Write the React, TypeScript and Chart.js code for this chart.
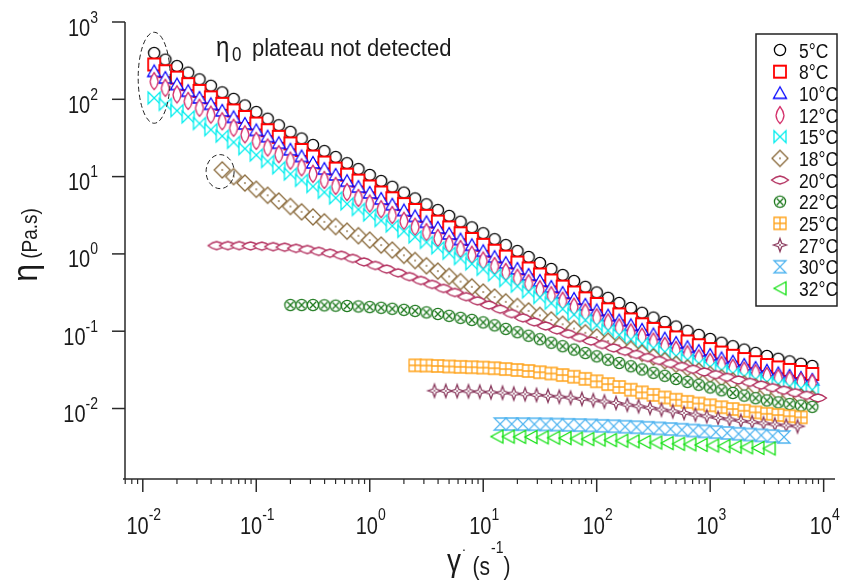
import React, { useEffect, useRef } from "react";
import { Chart, registerables } from "chart.js";

Chart.register(...registerables);

// ---------- data ----------
const seriesLabels = ["5°C", "8°C", "10°C", "12°C", "15°C", "18°C", "20°C", "22°C", "25°C", "27°C", "30°C", "32°C"];
const seriesColors = ["#000000", "#ff0000", "#0000ff", "#d42f6a", "#00eeee", "#8b6b3d", "#b3305f", "#1f7a1f", "#ffa31a", "#8a3a5e", "#4fb4f0", "#10e010"];
const seriesMarkers = ["circle", "square", "triangle", "lensV", "bowtie", "diamondDot", "lensH", "circleX", "squarePlus", "star4", "hourglass", "triLeft"];

const shearRate = [0.0126, 0.0158, 0.02, 0.0251, 0.0316, 0.0398, 0.0501, 0.0631, 0.0794, 0.1,
  0.126, 0.158, 0.2, 0.251, 0.316, 0.398, 0.501, 0.631, 0.794, 1.0,
  1.26, 1.58, 2.0, 2.51, 3.16, 3.98, 5.01, 6.31, 7.94, 10.0,
  12.6, 15.8, 20.0, 25.1, 31.6, 39.8, 50.1, 63.1, 79.4, 100,
  126, 158, 200, 251, 316, 398, 501, 631, 794, 1000,
  1259, 1585, 1995, 2512, 3162, 3981, 5012, 6310, 7943];

const eta5 = [397, 326, 269, 221, 181, 149.5, 122.9, 101.2, 83.2, 68.5,
  56.1, 46.1, 37.9, 31.1, 25.6, 21.4, 17.9, 14.9, 12.5, 10.5,
  8.77, 7.38, 6.21, 5.21, 4.38, 3.69, 3.1, 2.61, 2.2, 1.85,
  1.55, 1.3, 1.09, 0.912, 0.763, 0.638, 0.533, 0.446, 0.375, 0.317,
  0.27, 0.232, 0.2, 0.173, 0.15, 0.132, 0.115, 0.101, 0.0896, 0.0793,
  0.071, 0.064, 0.0578, 0.0524, 0.0478, 0.044, 0.0407, 0.0379, 0.0355];
const eta8 = [282, 231, 191, 157, 128.5, 106, 87.3, 71.9, 59.1, 48.6,
  39.8, 32.7, 26.9, 22.1, 18.2, 15.2, 12.7, 10.6, 8.88, 7.46,
  6.23, 5.24, 4.41, 3.7, 3.11, 2.62, 2.2, 1.85, 1.56, 1.31,
  1.1, 0.923, 0.774, 0.648, 0.542, 0.453, 0.378, 0.317, 0.266, 0.225,
  0.192, 0.165, 0.142, 0.123, 0.107, 0.0945, 0.0831, 0.0736, 0.0659, 0.0588,
  0.053, 0.0481, 0.0437, 0.0398, 0.0366, 0.034, 0.0316, 0.0297, 0.028];
const eta10 = [229, 188, 155, 127, 104, 86.1, 70.8, 58.3, 47.9, 39.5,
  32.8, 27.0, 22.2, 18.2, 15.0, 12.5, 10.5, 8.72, 7.31, 6.14,
  5.13, 4.32, 3.63, 3.05, 2.56, 2.16, 1.81, 1.53, 1.29, 1.08,
  0.907, 0.761, 0.638, 0.534, 0.446, 0.373, 0.312, 0.261, 0.219, 0.185,
  0.159, 0.137, 0.119, 0.104, 0.0905, 0.08, 0.0702, 0.062, 0.0553, 0.0492,
  0.0444, 0.0402, 0.0366, 0.0334, 0.0307, 0.0284, 0.0264, 0.0248, 0.0234];
const eta12 = [172, 141, 116, 95.3, 77.8, 63.4, 52.1, 42.9, 35.3, 29.0,
  23.8, 19.5, 16.1, 13.2, 10.9, 9.07, 7.59, 6.32, 5.3, 4.49,
  3.79, 3.19, 2.68, 2.25, 1.91, 1.61, 1.35, 1.16, 0.977, 0.821,
  0.698, 0.585, 0.491, 0.418, 0.349, 0.292, 0.248, 0.208, 0.175, 0.151,
  0.13, 0.112, 0.0964, 0.0848, 0.0735, 0.0647, 0.0573, 0.0503, 0.0446, 0.04,
  0.0365, 0.0336, 0.0309, 0.0286, 0.0263, 0.0248, 0.0234, 0.0224, 0.0214];
const eta15 = [104, 86.1, 71.3, 59.2, 48.7, 40.5, 33.4, 27.8, 23.0, 19.0,
  15.7, 13.0, 10.8, 8.96, 7.45, 6.27, 5.3, 4.44, 3.76, 3.19,
  2.7, 2.3, 1.96, 1.66, 1.41, 1.2, 1.02, 0.872, 0.744, 0.633,
  0.535, 0.452, 0.383, 0.323, 0.273, 0.23, 0.194, 0.164, 0.139, 0.119,
  0.102, 0.0893, 0.0782, 0.0687, 0.0605, 0.054, 0.0477, 0.0425, 0.0383, 0.0344,
  0.0312, 0.0285, 0.026, 0.0239, 0.022, 0.0206, 0.0193, 0.0183, 0.0174];

const rate18 = shearRate.slice(6);
const eta18 = [12.2, 10.0, 8.26, 6.85, 5.73, 4.83, 4.11, 3.5, 3.01, 2.6, 2.26, 1.97, 1.72,
  1.51, 1.3, 1.12, 0.959, 0.821, 0.702, 0.599, 0.512, 0.438, 0.375,
  0.321, 0.277, 0.24, 0.209, 0.183, 0.16, 0.14, 0.123, 0.108, 0.0954,
  0.0841, 0.0743, 0.0657, 0.0583, 0.0519, 0.0464, 0.0415, 0.0373, 0.0336, 0.0304,
  0.0275, 0.025, 0.0228, 0.0209, 0.0191, 0.0176, 0.0162, 0.0151, 0.0141, 0.0133];

const rate20 = [0.0447, 0.0562, 0.0708, 0.0891, 0.112, 0.141, 0.178, 0.224, 0.282, 0.355,
  0.447, 0.562, 0.708, 0.891, 1.12, 1.41, 1.78, 2.24, 2.82, 3.55,
  4.47, 5.62, 7.08, 8.91, 11.2, 14.1, 17.8, 22.4, 28.2, 35.5,
  44.7, 56.2, 70.8, 89.1, 112, 141, 178, 224, 282, 355,
  447, 562, 708, 891, 1122, 1413, 1778, 2239, 2818, 3548,
  4467, 5623, 7079, 8913];
const eta20 = [1.28, 1.28, 1.28, 1.27, 1.26, 1.24, 1.22, 1.18, 1.14, 1.08,
  1.02, 0.959, 0.875, 0.788, 0.708, 0.636, 0.569, 0.509, 0.453, 0.403,
  0.358, 0.317, 0.28, 0.247, 0.218, 0.193, 0.169, 0.149, 0.132, 0.117,
  0.104, 0.0926, 0.0829, 0.0747, 0.0673, 0.0608, 0.0551, 0.0501, 0.0457, 0.0418,
  0.0382, 0.035, 0.0322, 0.0297, 0.0274, 0.0253, 0.0234, 0.0218, 0.0201, 0.0186,
  0.0172, 0.016, 0.0148, 0.0137];

const rate22 = shearRate.slice(12);
const eta22 = [0.218, 0.218, 0.218, 0.216, 0.214, 0.212, 0.209,
  0.205, 0.201, 0.195, 0.189, 0.183, 0.175, 0.167, 0.158, 0.149, 0.14,
  0.13, 0.119, 0.107, 0.0971, 0.0874, 0.0788, 0.071, 0.064, 0.0578, 0.0522,
  0.0473, 0.0428, 0.0388, 0.0352, 0.032, 0.029, 0.0265, 0.0241, 0.0221, 0.0203,
  0.0187, 0.0172, 0.0159, 0.0147, 0.0136, 0.0127, 0.012, 0.0114, 0.0109, 0.0105];

const rate25 = shearRate.slice(23, 58);
const eta25 = [0.0362, 0.036, 0.0355, 0.035, 0.0346, 0.0342, 0.0338, 0.0332, 0.0324, 0.0315,
  0.0306, 0.0295, 0.0284, 0.0271, 0.0258, 0.0242, 0.0225, 0.0207, 0.019, 0.0175,
  0.0162, 0.015, 0.0139, 0.013, 0.0122, 0.0116, 0.011, 0.0104, 0.00985, 0.00934,
  0.0089, 0.00854, 0.00824, 0.00795, 0.00769];

const rate27 = [3.72, 4.68, 5.89, 7.41, 9.33, 11.7, 14.8, 18.6, 23.4, 29.5,
  37.2, 46.8, 58.9, 74.1, 93.3, 117, 148, 186, 234, 295,
  372, 468, 589, 741, 933, 1175, 1479, 1862, 2344, 2951,
  3715, 4677, 5888];
const eta27 = [0.017, 0.0169, 0.0168, 0.0167, 0.0165, 0.0162, 0.016, 0.0156, 0.0153, 0.015,
  0.0146, 0.0142, 0.0138, 0.0133, 0.0128, 0.0123, 0.0118, 0.0112, 0.0107, 0.0102,
  0.00968, 0.0092, 0.00875, 0.00832, 0.00793, 0.00756, 0.00723, 0.00693, 0.00667, 0.00644,
  0.00623, 0.00605, 0.00588];

const rate30 = [14.1, 17.8, 22.4, 28.2, 35.5, 44.7, 56.2, 70.8, 89.1, 112,
  141, 178, 224, 282, 355, 447, 562, 708, 891, 1122,
  1413, 1778, 2239, 2818, 3548, 4467];
const eta30 = [0.0063, 0.0063, 0.00628, 0.00626, 0.00623, 0.00619, 0.00615, 0.0061, 0.00605, 0.00597,
  0.0059, 0.00581, 0.00573, 0.00563, 0.00553, 0.00543, 0.00532, 0.00519, 0.00507, 0.00495,
  0.00483, 0.00471, 0.00461, 0.0045, 0.0044, 0.00428];

const rate32 = [13.2, 16.6, 20.9, 26.3, 33.1, 41.7, 52.5, 66.1, 83.2, 105,
  132, 166, 209, 263, 331, 417, 525, 661, 832, 1047,
  1318, 1660, 2089, 2630, 3311];
const eta32 = [0.00434, 0.00433, 0.0043, 0.00428, 0.00424, 0.00419, 0.00414, 0.00408, 0.00402, 0.00396,
  0.0039, 0.00383, 0.00376, 0.0037, 0.00363, 0.00357, 0.0035, 0.00344, 0.00338, 0.00332,
  0.00326, 0.0032, 0.00315, 0.00309, 0.00304];

const seriesRates = [shearRate, shearRate, shearRate, shearRate, shearRate, rate18, rate20, rate22, rate25, rate27, rate30, rate32];
const seriesEta = [eta5, eta8, eta10, eta12, eta15, eta18, eta20, eta22, eta25, eta27, eta30, eta32];

const xTickValues = [0.01, 0.1, 1, 10, 100, 1000, 10000];
const xTickExponents = ["-2", "-1", "0", "1", "2", "3", "4"];
const yTickValues = [0.01, 0.1, 1, 10, 100, 1000];
const yTickExponents = ["-2", "-1", "0", "1", "2", "3"];

const X_MIN = 0.00697;
const X_MAX = 12589;
const Y_MIN = 0.001225;
const Y_MAX = 1000;

// dashed ellipses: [rate, eta, rx(px), ry(px)]
const ellipseNotes = [
  [0.0126, 190, 16, 45.5],
  [0.048, 11.6, 14, 17],
];

// ---------- drawing helpers ----------
const FONT = '"Liberation Sans", Arial, Helvetica, sans-serif';

function makeMarker(kind: string, color: string): HTMLCanvasElement {
  const S = 22;
  const c = document.createElement("canvas");
  c.width = S;
  c.height = S;
  const g = c.getContext("2d")!;
  g.translate(S / 2, S / 2);
  g.strokeStyle = color;
  g.fillStyle = "#ffffff";
  g.lineWidth = 1.3;
  g.lineJoin = "miter";
  g.beginPath();
  switch (kind) {
    case "circle":
      g.arc(0, 0, 5.6, 0, Math.PI * 2);
      break;
    case "square":
      g.lineWidth = 1.8;
      g.rect(-6, -6, 12, 12);
      break;
    case "triangle":
      g.moveTo(0, -6.5);
      g.lineTo(6.5, 5);
      g.lineTo(-6.5, 5);
      g.closePath();
      break;
    case "lensV":
      g.moveTo(0, -8.5);
      g.quadraticCurveTo(3.6, -4, 4, 0.5);
      g.quadraticCurveTo(3.6, 5, 0, 8.5);
      g.quadraticCurveTo(-3.6, 5, -4, 0.5);
      g.quadraticCurveTo(-3.6, -4, 0, -8.5);
      g.closePath();
      break;
    case "bowtie":
      g.moveTo(-6, -6);
      g.lineTo(6, 6);
      g.lineTo(6, -6);
      g.lineTo(-6, 6);
      g.closePath();
      break;
    case "hourglass":
      g.moveTo(-6, -6);
      g.lineTo(6, -6);
      g.lineTo(-6, 6);
      g.lineTo(6, 6);
      g.closePath();
      break;
    case "diamondDot":
      g.moveTo(0, -8);
      g.lineTo(8, 0);
      g.lineTo(0, 8);
      g.lineTo(-8, 0);
      g.closePath();
      break;
    case "lensH":
      g.moveTo(-8.5, 0);
      g.quadraticCurveTo(-4, -3.6, 0, -4);
      g.quadraticCurveTo(4, -3.6, 8.5, 0);
      g.quadraticCurveTo(4, 3.6, 0, 4);
      g.quadraticCurveTo(-4, 3.6, -8.5, 0);
      g.closePath();
      break;
    case "circleX":
      g.arc(0, 0, 5.6, 0, Math.PI * 2);
      break;
    case "squarePlus":
      g.rect(-6, -6, 12, 12);
      break;
    case "star4":
      g.moveTo(0, -6.5);
      g.lineTo(1.7, -1.7);
      g.lineTo(6.5, 0);
      g.lineTo(1.7, 1.7);
      g.lineTo(0, 6.5);
      g.lineTo(-1.7, 1.7);
      g.lineTo(-6.5, 0);
      g.lineTo(-1.7, -1.7);
      g.closePath();
      break;
    case "triLeft":
      g.moveTo(-6, 0);
      g.lineTo(6, -6.5);
      g.lineTo(6, 6.5);
      g.closePath();
      break;
  }
  g.fill();
  g.stroke();
  g.fillStyle = color;
  if (kind === "diamondDot" || kind === "star4") {
    g.fillRect(-0.8, -0.8, 1.6, 1.6);
  }
  if (kind === "circleX") {
    g.beginPath();
    g.moveTo(-3.2, -3.2);
    g.lineTo(3.2, 3.2);
    g.moveTo(3.2, -3.2);
    g.lineTo(-3.2, 3.2);
    g.stroke();
  }
  if (kind === "squarePlus") {
    g.beginPath();
    g.moveTo(0, -6);
    g.lineTo(0, 6);
    g.moveTo(-6, 0);
    g.lineTo(6, 0);
    g.stroke();
  }
  return c;
}

function drawText(ctx: CanvasRenderingContext2D, s: string, x: number, y: number, size: number,
  align: CanvasTextAlign = "left", stretch = 1.18, color = "#1a1a1a") {
  ctx.save();
  ctx.font = `${size}px ${FONT}`;
  ctx.fillStyle = color;
  ctx.textAlign = align;
  ctx.textBaseline = "alphabetic";
  ctx.translate(x, y);
  ctx.scale(1, stretch);
  ctx.fillText(s, 0, 0);
  ctx.restore();
}

function textWidth(ctx: CanvasRenderingContext2D, s: string, size: number) {
  ctx.save();
  ctx.font = `${size}px ${FONT}`;
  const w = ctx.measureText(s).width;
  ctx.restore();
  return w;
}

const BASE_SIZE = 20;
const EXP_SIZE = 14;
const TICK_STRETCH = 1.22;

const axesPlugin = {
  id: "customAxes",
  afterDraw(chart: any) {
    const ctx: CanvasRenderingContext2D = chart.ctx;
    const xs = chart.scales.x;
    const ys = chart.scales.y;
    const a = chart.chartArea;
    ctx.save();
    ctx.strokeStyle = "#2a2a2a";
    ctx.lineWidth = 1.5;
    ctx.beginPath();
    ctx.moveTo(a.left, a.top);
    ctx.lineTo(a.left, a.bottom);
    ctx.moveTo(a.left - 2, a.bottom);
    ctx.lineTo(a.right, a.bottom);
    ctx.stroke();

    // y ticks + labels
    yTickValues.forEach((v, i) => {
      const py = ys.getPixelForValue(v);
      ctx.beginPath();
      ctx.moveTo(a.left - 13, py);
      ctx.lineTo(a.left, py);
      ctx.stroke();
      const e = yTickExponents[i];
      const ew = textWidth(ctx, e, EXP_SIZE);
      const bw = textWidth(ctx, "10", BASE_SIZE);
      const right = a.left - 27;
      const bx = right - ew - bw;
      drawText(ctx, "10", bx, py + 13.5, BASE_SIZE, "left", TICK_STRETCH);
      drawText(ctx, e, bx + bw, py + 0.5, EXP_SIZE, "left", TICK_STRETCH);
    });

    // x minor ticks
    const lo = Math.floor(Math.log10(X_MIN));
    const hi = Math.ceil(Math.log10(X_MAX));
    ctx.lineWidth = 1.2;
    for (let d = lo; d <= hi; d++) {
      for (let m = 2; m <= 9; m++) {
        const v = m * Math.pow(10, d);
        if (v < X_MIN || v > X_MAX) continue;
        const px = xs.getPixelForValue(v);
        ctx.beginPath();
        ctx.moveTo(px, a.bottom);
        ctx.lineTo(px, a.bottom + 5);
        ctx.stroke();
      }
    }
    // x major ticks + labels
    ctx.lineWidth = 1.5;
    xTickValues.forEach((v, i) => {
      const px = xs.getPixelForValue(v);
      ctx.beginPath();
      ctx.moveTo(px, a.bottom);
      ctx.lineTo(px, a.bottom + 13);
      ctx.stroke();
      const e = xTickExponents[i];
      const ew = textWidth(ctx, e, EXP_SIZE);
      const bw = textWidth(ctx, "10", BASE_SIZE);
      const bx = px - (bw + ew) / 2 + 1;
      drawText(ctx, "10", bx, a.bottom + 55, BASE_SIZE, "left", TICK_STRETCH);
      drawText(ctx, e, bx + bw, a.bottom + 41, EXP_SIZE, "left", TICK_STRETCH);
    });

    // y axis title (rotated)
    ctx.save();
    ctx.translate(37, 245);
    ctx.rotate(-Math.PI / 2);
    const wEta = textWidth(ctx, "η", 32);
    const wUnit = textWidth(ctx, " (Pa.s)", 19);
    const sx = -(wEta + wUnit) / 2;
    drawText(ctx, "η", sx, 0, 32, "left", 1.1);
    drawText(ctx, " (Pa.s)", sx + wEta, 0, 19, "left", 1.15);
    ctx.restore();

    // x axis title
    const gx = 447;
    drawText(ctx, "γ", gx, 571, 28, "left", 1.12);
    drawText(ctx, ".", 462, 551, 14, "left", 1.0);
    const px0 = 472.5;
    const wPs = textWidth(ctx, "(s", 21);
    drawText(ctx, "(s", px0, 575, 21, "left", 1.2);
    const wE = textWidth(ctx, "-1", EXP_SIZE);
    drawText(ctx, "-1", px0 + wPs + 1, 553, EXP_SIZE, "left", 1.2);
    drawText(ctx, ")", px0 + wPs + wE + 1, 575, 21, "left", 1.2);

    // annotation
    drawText(ctx, "η", 216, 56, 24, "left", 1.15);
    drawText(ctx, "0", 232, 61, 17, "left", 1.15);
    drawText(ctx, "plateau not detected", 252, 56, 22, "left", 1.1);

    // dashed ellipses
    ctx.strokeStyle = "#222";
    ctx.lineWidth = 1;
    ctx.setLineDash([5, 3]);
    ellipseNotes.forEach(([rx0, ry0, rpx, rpy]) => {
      const cx = xs.getPixelForValue(rx0);
      const cy = ys.getPixelForValue(ry0);
      ctx.beginPath();
      ctx.ellipse(cx, cy, rpx, rpy, 0, 0, Math.PI * 2);
      ctx.stroke();
    });
    ctx.setLineDash([]);

    // legend
    const lx = 756;
    const ly = 34;
    const lw = 81;
    const lh = 272;
    ctx.fillStyle = "#ffffff";
    ctx.fillRect(lx, ly, lw, lh);
    ctx.strokeStyle = "#222";
    ctx.lineWidth = 1.5;
    ctx.strokeRect(lx, ly, lw, lh);
    chart.data.datasets.forEach((ds: any, i: number) => {
      const cy = ly + 16 + i * 21.67;
      const img = ds.pointStyle as HTMLCanvasElement;
      ctx.drawImage(img, 780 - img.width / 2, cy - img.height / 2);
      drawText(ctx, ds.label, 799, cy + 7.5, 17.5, "left", 1.15, "#111");
    });
    ctx.restore();
  },
};

export default function App() {
  const ref = useRef<HTMLCanvasElement | null>(null);
  useEffect(() => {
    if (!ref.current) return;
    const datasets = seriesLabels.map((label, i) => ({
      label,
      data: seriesRates[i].map((x, k) => ({ x, y: seriesEta[i][k] })),
      pointStyle: makeMarker(seriesMarkers[i], seriesColors[i]),
      pointRadius: 6,
      pointHoverRadius: 6,
      borderColor: seriesColors[i],
      backgroundColor: "#ffffff",
      showLine: false,
      order: -i,
    }));
    const chart = new Chart(ref.current, {
      type: "scatter",
      data: { datasets },
      options: {
        responsive: false,
        animation: false,
        events: [],
        layout: { padding: { left: 125, top: 22, right: 2, bottom: 102 } },
        scales: {
          x: { type: "logarithmic", min: X_MIN, max: X_MAX, display: false },
          y: { type: "logarithmic", min: Y_MIN, max: Y_MAX, display: false },
        },
        plugins: { legend: { display: false }, tooltip: { enabled: false } },
      },
      plugins: [axesPlugin],
    } as any);
    return () => chart.destroy();
  }, []);
  return (
    <div style={{ position: "fixed", left: 0, top: 0, width: 842, height: 581, background: "#ffffff" }}>
      <canvas ref={ref} width={842} height={581} style={{ display: "block" }} />
    </div>
  );
}
